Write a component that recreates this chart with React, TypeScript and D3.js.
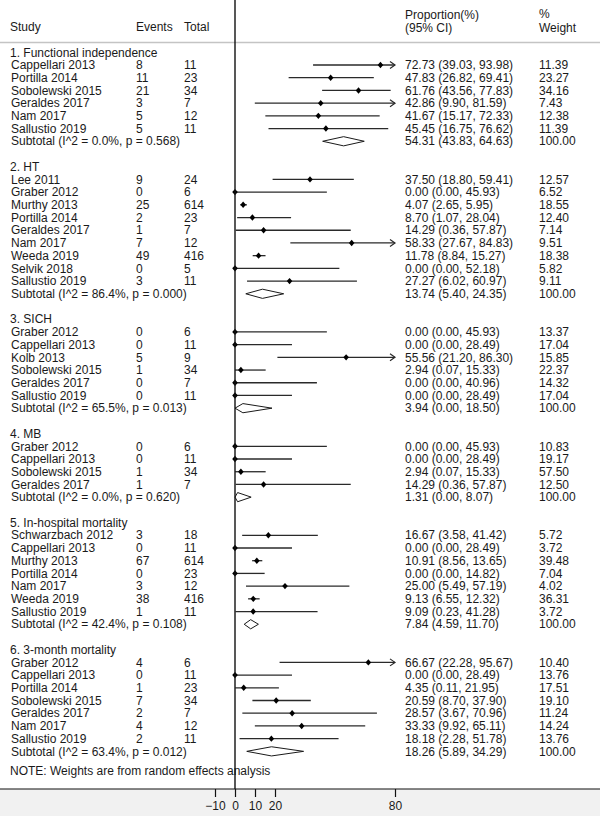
import { useEffect, useRef } from "react";
import * as d3 from "d3";

const WIDTH = 600;
const HEIGHT = 816;
const ROW0 = 52.3;
const ROW_STEP = 12.71;
const NOTE_Y = 771;
const AXIS_Y = 789;
const FONT = '"Liberation Sans", Arial, sans-serif';
const INK = "#1a1a1a";

const GROUP_TITLES = [
  "1. Functional independence",
  "2. HT",
  "3. SICH",
  "4. MB",
  "5. In-hospital mortality",
  "6. 3-month mortality",
];
const GROUP_I2 = ["0.0%", "86.4%", "65.5%", "0.0%", "42.4%", "63.4%"];
const GROUP_P = ["0.568", "0.000", "0.013", "0.620", "0.108", "0.012"];
const SUB_EST = [54.31, 13.74, 3.94, 1.31, 7.84, 18.26];
const SUB_LO = [43.83, 5.4, 0.0, 0.0, 4.59, 5.89];
const SUB_HI = [64.63, 24.35, 18.5, 8.07, 11.7, 34.29];

const STUDY_GROUP = [
  0, 0, 0, 0, 0, 0,
  1, 1, 1, 1, 1, 1, 1, 1, 1,
  2, 2, 2, 2, 2, 2,
  3, 3, 3, 3,
  4, 4, 4, 4, 4, 4, 4,
  5, 5, 5, 5, 5, 5, 5,
];
const STUDIES = [
  "Cappellari 2013", "Portilla 2014", "Sobolewski 2015", "Geraldes 2017", "Nam 2017", "Sallustio 2019",
  "Lee 2011", "Graber 2012", "Murthy 2013", "Portilla 2014", "Geraldes 2017", "Nam 2017", "Weeda 2019", "Selvik 2018", "Sallustio 2019",
  "Graber 2012", "Cappellari 2013", "Kolb 2013", "Sobolewski 2015", "Geraldes 2017", "Sallustio 2019",
  "Graber 2012", "Cappellari 2013", "Sobolewski 2015", "Geraldes 2017",
  "Schwarzbach 2012", "Cappellari 2013", "Murthy 2013", "Portilla 2014", "Nam 2017", "Weeda 2019", "Sallustio 2019",
  "Graber 2012", "Cappellari 2013", "Portilla 2014", "Sobolewski 2015", "Geraldes 2017", "Nam 2017", "Sallustio 2019",
];
const EVENTS = [
  8, 11, 21, 3, 5, 5,
  9, 0, 25, 2, 1, 7, 49, 0, 3,
  0, 0, 5, 1, 0, 0,
  0, 0, 1, 1,
  3, 0, 67, 0, 3, 38, 1,
  4, 0, 1, 7, 2, 4, 2,
];
const TOTALS = [
  11, 23, 34, 7, 12, 11,
  24, 6, 614, 23, 7, 12, 416, 5, 11,
  6, 11, 9, 34, 7, 11,
  6, 11, 34, 7,
  18, 11, 614, 23, 12, 416, 11,
  6, 11, 23, 34, 7, 12, 11,
];
const ESTIMATES = [
  72.73, 47.83, 61.76, 42.86, 41.67, 45.45,
  37.5, 0.0, 4.07, 8.7, 14.29, 58.33, 11.78, 0.0, 27.27,
  0.0, 0.0, 55.56, 2.94, 0.0, 0.0,
  0.0, 0.0, 2.94, 14.29,
  16.67, 0.0, 10.91, 0.0, 25.0, 9.13, 9.09,
  66.67, 0.0, 4.35, 20.59, 28.57, 33.33, 18.18,
];
const LOWER = [
  39.03, 26.82, 43.56, 9.9, 15.17, 16.75,
  18.8, 0.0, 2.65, 1.07, 0.36, 27.67, 8.84, 0.0, 6.02,
  0.0, 0.0, 21.2, 0.07, 0.0, 0.0,
  0.0, 0.0, 0.07, 0.36,
  3.58, 0.0, 8.56, 0.0, 5.49, 6.55, 0.23,
  22.28, 0.0, 0.11, 8.7, 3.67, 9.92, 2.28,
];
const UPPER = [
  93.98, 69.41, 77.83, 81.59, 72.33, 76.62,
  59.41, 45.93, 5.95, 28.04, 57.87, 84.83, 15.27, 52.18, 60.97,
  45.93, 28.49, 86.3, 15.33, 40.96, 28.49,
  45.93, 28.49, 15.33, 57.87,
  41.42, 28.49, 13.65, 14.82, 57.19, 12.32, 41.28,
  95.67, 28.49, 21.95, 37.9, 70.96, 65.11, 51.78,
];
const WEIGHTS = [
  11.39, 23.27, 34.16, 7.43, 12.38, 11.39,
  12.57, 6.52, 18.55, 12.4, 7.14, 9.51, 18.38, 5.82, 9.11,
  13.37, 17.04, 15.85, 22.37, 14.32, 17.04,
  10.83, 19.17, 57.5, 12.5,
  5.72, 3.72, 39.48, 7.04, 4.02, 36.31, 3.72,
  10.4, 13.76, 17.51, 19.1, 11.24, 14.24, 13.76,
];
const X_TICKS = [-10, 0, 10, 20, 80];
const X_DOMAIN = [-10, 80];

const fmt = d3.format(".2f");

export default function App() {
  const svgRef = useRef<SVGSVGElement>(null);

  useEffect(() => {
    document.body.style.margin = "0";
    const svg = d3.select(svgRef.current);
    svg.selectAll("*").remove();

    const x = d3.scaleLinear().domain(X_DOMAIN).range([215, 395]);
    const rowY = (r: number) => ROW0 + r * ROW_STEP;

    svg.append("rect").attr("width", WIDTH).attr("height", HEIGHT).attr("fill", "#ffffff");
    svg
      .append("rect")
      .attr("x", 0)
      .attr("y", AXIS_Y)
      .attr("width", WIDTH)
      .attr("height", HEIGHT - AXIS_Y)
      .attr("fill", "#f1f1f1");

    const text = (tx: number, cy: number, s: string) =>
      svg
        .append("text")
        .attr("x", tx)
        .attr("y", cy + 4.2)
        .attr("font-family", FONT)
        .attr("font-size", 12)
        .attr("fill", INK)
        .text(s);

    // header
    text(10, 27, "Study");
    text(136, 27, "Events");
    text(184, 27, "Total");
    text(405, 15, "Proportion(%)");
    text(405, 28, "(95% CI)");
    text(539, 13.5, "%");
    text(539, 27.5, "Weight");

    svg
      .append("line")
      .attr("x1", 0)
      .attr("x2", WIDTH)
      .attr("y1", 42.5)
      .attr("y2", 42.5)
      .attr("stroke", "#c4c4c4")
      .attr("stroke-width", 1.5);

    const plot = svg.append("g");

    let row = 0;
    GROUP_TITLES.forEach((title, g) => {
      text(10, rowY(row), title);
      row += 1;
      STUDY_GROUP.forEach((sg, i) => {
        if (sg !== g) return;
        const cy = rowY(row);
        text(11, cy, STUDIES[i]);
        text(136, cy, String(EVENTS[i]));
        text(184, cy, String(TOTALS[i]));
        text(405, cy, `${fmt(ESTIMATES[i])} (${fmt(LOWER[i])}, ${fmt(UPPER[i])})`);
        text(539, cy, fmt(WEIGHTS[i]));

        const clipped = UPPER[i] > X_DOMAIN[1];
        const x1 = x(LOWER[i]);
        const x2 = x(Math.min(UPPER[i], X_DOMAIN[1]));
        plot
          .append("line")
          .attr("x1", x1)
          .attr("x2", x2)
          .attr("y1", cy)
          .attr("y2", cy)
          .attr("stroke", "#2a2a2a")
          .attr("stroke-width", 1.3);
        if (clipped) {
          plot
            .append("path")
            .attr("d", `M${x2 - 5},${cy - 3.5}L${x2},${cy}L${x2 - 5},${cy + 3.5}`)
            .attr("fill", "none")
            .attr("stroke", "#2a2a2a")
            .attr("stroke-width", 1.2);
        }
        const px = x(ESTIMATES[i]);
        plot
          .append("path")
          .attr("d", `M${px - 2.8},${cy}L${px},${cy - 3.2}L${px + 2.8},${cy}L${px},${cy + 3.2}Z`)
          .attr("fill", "#000");
        row += 1;
      });

      const cy = rowY(row);
      text(11, cy, `Subtotal  (I^2 = ${GROUP_I2[g]}, p = ${GROUP_P[g]})`);
      text(405, cy, `${fmt(SUB_EST[g])} (${fmt(SUB_LO[g])}, ${fmt(SUB_HI[g])})`);
      text(539, cy, fmt(100));
      plot
        .append("path")
        .attr(
          "d",
          `M${x(SUB_LO[g])},${cy}L${x(SUB_EST[g])},${cy - 4.6}L${x(SUB_HI[g])},${cy}L${x(SUB_EST[g])},${cy + 4.6}Z`
        )
        .attr("fill", "#fff")
        .attr("stroke", "#1a1a1a")
        .attr("stroke-width", 1);
      row += 2;
    });

    text(10, NOTE_Y, "NOTE: Weights are from random effects analysis");

    // null line
    svg
      .append("line")
      .attr("x1", x(0))
      .attr("x2", x(0))
      .attr("y1", 0)
      .attr("y2", AXIS_Y)
      .attr("stroke", "#111")
      .attr("stroke-width", 1.4);

    // bottom axis
    svg
      .append("line")
      .attr("x1", 0)
      .attr("x2", WIDTH)
      .attr("y1", AXIS_Y)
      .attr("y2", AXIS_Y)
      .attr("stroke", "#111")
      .attr("stroke-width", 1.2);

    svg
      .append("g")
      .attr("transform", `translate(0, ${AXIS_Y})`)
      .call(d3.axisBottom(x).tickValues(X_TICKS).tickSize(8).tickPadding(4))
      .call((gr) => gr.select(".domain").remove())
      .call((gr) => gr.selectAll("line").attr("stroke", "#111").attr("stroke-width", 1.2))
      .call((gr) =>
        gr.selectAll("text").attr("font-family", FONT).attr("font-size", 12).attr("fill", INK)
      );
  }, []);

  return (
    <svg
      ref={svgRef}
      width={WIDTH}
      height={HEIGHT}
      style={{ display: "block", position: "absolute", left: 0, top: 0 }}
    />
  );
}
